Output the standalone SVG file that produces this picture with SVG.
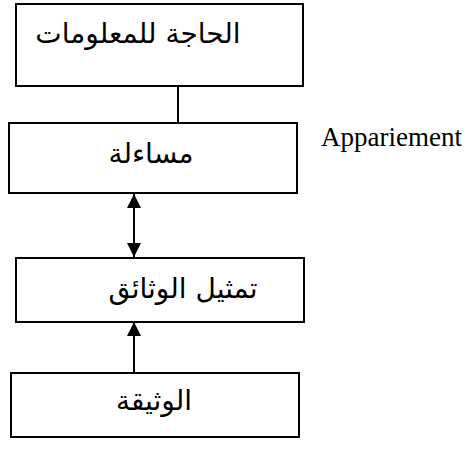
<svg xmlns="http://www.w3.org/2000/svg" width="472" height="450" viewBox="0 0 472 450">
  <style>
    .box { fill: #fff; stroke: #000; stroke-width: 2; }
    .ar { font-family: "DejaVu Sans", "Liberation Sans", sans-serif; font-size: 28px; fill: #000; text-anchor: middle; direction: rtl; }
    .lat { font-family: "Liberation Serif", serif; font-size: 27px; fill: #000; }
    .conn { stroke: #000; stroke-width: 2; fill: none; }
  </style>
  <defs>
    <marker id="arrow" viewBox="0 0 14 14" refX="14" refY="7" markerWidth="14" markerHeight="14" markerUnits="userSpaceOnUse" orient="auto-start-reverse">
      <path d="M0,0 L14,7 L0,14 Z" fill="#000"/>
    </marker>
  </defs>
  <rect width="472" height="450" fill="#fff"/>

  <g id="connectors">
    <line class="conn" x1="178" y1="87" x2="178" y2="123"/>
    <line class="conn" x1="134" y1="194" x2="134" y2="257" marker-start="url(#arrow)" marker-end="url(#arrow)"/>
    <line class="conn" x1="134" y1="373" x2="134" y2="322" marker-end="url(#arrow)"/>
  </g>

  <g id="need">
    <rect class="box" x="16" y="4" width="287" height="82"/>
    <text class="ar" x="138" y="43">الحاجة للمعلومات</text>
  </g>

  <g id="query">
    <rect class="box" x="9" y="123" width="288" height="70"/>
    <text class="ar" x="151" y="163">مساءلة</text>
  </g>

  <g id="representation">
    <rect class="box" x="16" y="258" width="288" height="64"/>
    <text class="ar" x="183" y="298">تمثيل الوثائق</text>
  </g>

  <g id="document">
    <rect class="box" x="11" y="373" width="288" height="64"/>
    <text class="ar" x="154" y="410">الوثيقة</text>
  </g>

  <text class="lat" x="321" y="146">Appariement</text>
</svg>
